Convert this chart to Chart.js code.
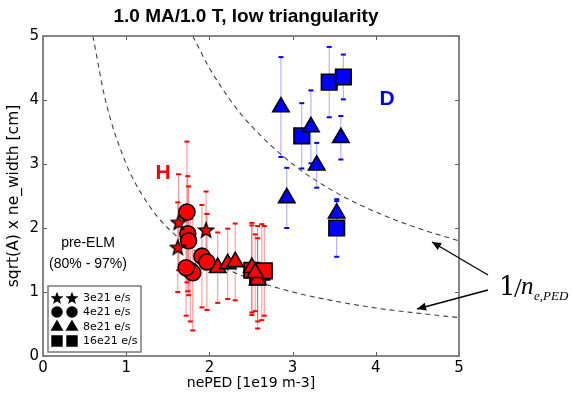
<!DOCTYPE html>
<html><head><meta charset="utf-8">
<script src="https://cdn.jsdelivr.net/npm/chart.js@4"></script>
<style>html,body{margin:0;padding:0;background:#fff}#wrap{width:573px;height:401px;position:relative}</style>
</head><body><div id="wrap"><canvas id="c" width="573" height="401"></canvas></div>
<script>
// ---- data ----
const xTicks = [0, 1, 2, 3, 4, 5];
const yTicks = [0, 1, 2, 3, 4, 5];
const titleText = '1.0 MA/1.0 T, low triangularity';
const xLabel = 'nePED [1e19 m-3]';
const yLabel = 'sqrt(A) x ne_width [cm]';
const legendLabels = ['3e21 e/s', '4e21 e/s', '8e21 e/s', '16e21 e/s'];

// H-mode (red) points
const hStarX = [1.63, 1.96, 1.62];
const hStarY = [2.09, 1.97, 1.70];
const hStarErr = [0.75, 0.60, 0.70];
const hCircX = [1.73, 1.74, 1.75, 1.91, 1.97, 1.77, 1.80, 1.72];
const hCircY = [2.25, 1.91, 1.80, 1.56, 1.47, 1.34, 1.30, 1.38];
const hCircErr = [1.10, 0.90, 0.85, 0.80, 0.75, 0.80, 0.90, 0.75];
const hTriX = [2.10, 2.22, 2.31, 2.51, 2.58, 2.55];
const hTriY = [1.38, 1.44, 1.47, 1.38, 1.19, 1.30];
const hTriErr = [0.55, 0.55, 0.60, 0.70, 0.65, 0.60];
const hSqX = [2.51, 2.63, 2.58, 2.66];
const hSqY = [1.34, 1.31, 1.23, 1.33];
const hSqErr = [0.70, 0.75, 0.80, 0.70];

// D (blue) points
const dTriX = [2.86, 3.22, 3.29, 3.58, 2.93, 3.53];
const dTriY = [3.89, 3.58, 2.98, 3.41, 2.47, 2.23];
const dTriErr = [0.78, 0.57, 0.35, 0.34, 0.47, 0.19];
const dSqX = [3.11, 3.44, 3.61, 3.53];
const dSqY = [3.44, 4.28, 4.36, 2.00];
const dSqErr = [0.51, 0.55, 0.35, 0.45];

// dashed 1/n reference curves
const upperCurveX = [1.80, 2.00, 2.25, 2.50, 3.00, 3.50, 4.00, 4.50, 5.00];
const upperCurveY = [5.00, 4.50, 4.00, 3.60, 3.00, 2.57, 2.25, 2.00, 1.80];
const lowerCurveX = [0.60, 0.75, 1.00, 1.25, 1.50, 2.00, 2.50, 3.00, 3.50, 4.00, 4.50, 5.00];
const lowerCurveY = [5.00, 4.00, 3.00, 2.40, 2.00, 1.50, 1.20, 1.00, 0.86, 0.75, 0.67, 0.60];

// ---- helpers ----
function pts(xs, ys, es) { return xs.map((x, i) => ({x: x, y: ys[i], err: es ? es[i] : 0})); }
function starCanvas(size, fill) {
  const c = document.createElement('canvas');
  c.width = size; c.height = size;
  const g = c.getContext('2d');
  const cx = size / 2, cy = size / 2 + size * 0.04, R = size / 2 - 1.2, r = R * 0.42;
  g.beginPath();
  for (let i = 0; i < 10; i++) {
    const a = -Math.PI / 2 + i * Math.PI / 5;
    const rr = i % 2 ? r : R;
    g.lineTo(cx + rr * Math.cos(a), cy + rr * Math.sin(a));
  }
  g.closePath();
  g.fillStyle = fill; g.fill();
  g.lineWidth = 1.4; g.strokeStyle = '#000'; g.stroke();
  return c;
}
const redStar = starCanvas(18, '#ff0000');
const blackStar = starCanvas(12, '#000000');

const RED = '#ff0000', BLUE = '#0000ff';

function scat(label, data, style, radius, color, errColor, capColor) {
  return {
    type: 'scatter', label: label, data: data, pointStyle: style, pointRadius: radius,
    pointBackgroundColor: color, pointBorderColor: '#000', pointBorderWidth: 1.6,
    errColor: errColor, capColor: capColor, showLine: false
  };
}

const errPlugin = {
  id: 'errbars',
  beforeDatasetsDraw(chart) {
    const ctx = chart.ctx, xs = chart.scales.x, ys = chart.scales.y, a = chart.chartArea;
    ctx.save();
    ctx.beginPath(); ctx.rect(a.left, a.top, a.right - a.left, a.bottom - a.top); ctx.clip();
    chart.data.datasets.forEach(ds => {
      if (!ds.errColor) return;
      ds.data.forEach(p => {
        const px = xs.getPixelForValue(p.x);
        const y1 = ys.getPixelForValue(p.y - p.err), y2 = ys.getPixelForValue(p.y + p.err);
        ctx.strokeStyle = ds.errColor; ctx.lineWidth = 1;
        ctx.beginPath(); ctx.moveTo(px, y1); ctx.lineTo(px, y2); ctx.stroke();
        ctx.fillStyle = ds.capColor;
        ctx.fillRect(px - 2.5, y1 - 1, 5, 2);
        ctx.fillRect(px - 2.5, y2 - 1, 5, 2);
      });
    });
    ctx.restore();
  }
};

function arrow(ctx, x1, y1, x2, y2) {
  ctx.beginPath(); ctx.moveTo(x1, y1); ctx.lineTo(x2, y2); ctx.stroke();
  const ang = Math.atan2(y2 - y1, x2 - x1), L = 9, W = 4;
  ctx.beginPath();
  ctx.moveTo(x2, y2);
  ctx.lineTo(x2 - L * Math.cos(ang) + W * Math.sin(ang), y2 - L * Math.sin(ang) - W * Math.cos(ang));
  ctx.lineTo(x2 - L * Math.cos(ang) - W * Math.sin(ang), y2 - L * Math.sin(ang) + W * Math.cos(ang));
  ctx.closePath(); ctx.fill();
}

const decoPlugin = {
  id: 'deco',
  afterDraw(chart) {
    const ctx = chart.ctx, a = chart.chartArea, xs = chart.scales.x, ys = chart.scales.y;
    ctx.save();
    // inward ticks on all four sides
    ctx.strokeStyle = '#555'; ctx.lineWidth = 1;
    xTicks.forEach(v => {
      const px = Math.round(xs.getPixelForValue(v)) + 0.5;
      ctx.beginPath(); ctx.moveTo(px, a.bottom); ctx.lineTo(px, a.bottom - 4);
      ctx.moveTo(px, a.top); ctx.lineTo(px, a.top + 4); ctx.stroke();
    });
    yTicks.forEach(v => {
      const py = Math.round(ys.getPixelForValue(v)) + 0.5;
      ctx.beginPath(); ctx.moveTo(a.left, py); ctx.lineTo(a.left + 4, py);
      ctx.moveTo(a.right, py); ctx.lineTo(a.right - 4, py); ctx.stroke();
    });
    // frame
    ctx.strokeStyle = '#7a7a7a'; ctx.lineWidth = 1.8;
    ctx.strokeRect(a.left, a.top, a.right - a.left, a.bottom - a.top);

    // title
    ctx.fillStyle = '#000';
    ctx.font = 'bold 19px "Liberation Sans", Arial, sans-serif';
    ctx.textAlign = 'center'; ctx.textBaseline = 'middle';
    ctx.fillText(titleText, 246, 17);

    // H / D labels
    ctx.font = 'bold 21px "Liberation Sans", Arial, sans-serif';
    ctx.fillStyle = RED; ctx.fillText('H', 163, 173);
    ctx.fillStyle = BLUE; ctx.fillText('D', 387, 99);

    // pre-ELM text
    ctx.fillStyle = '#000';
    ctx.font = '14px "Liberation Sans", Arial, sans-serif';
    ctx.fillText('pre-ELM', 88, 243);
    ctx.fillText('(80% - 97%)', 88, 264);

    // legend box
    const lx = 48, ly = 286, lw = 93, lh = 66;
    ctx.fillStyle = '#fff'; ctx.fillRect(lx, ly, lw, lh);
    ctx.strokeStyle = '#7a7a7a'; ctx.lineWidth = 1.5; ctx.strokeRect(lx, ly, lw, lh);
    const rows = [298, 312, 327, 341];
    const styles = ['star', 'circle', 'triangle', 'rect'];
    const radii = [0, 5, 6, 7];
    ctx.font = '11px "DejaVu Sans", sans-serif';
    ctx.textAlign = 'left';
    rows.forEach((ry, i) => {
      [57, 72].forEach(mx => {
        if (styles[i] === 'star') {
          ctx.drawImage(blackStar, mx - blackStar.width / 2, ry - blackStar.height / 2);
        } else {
          ctx.fillStyle = '#000'; ctx.strokeStyle = '#000';
          Chart.helpers.drawPoint(ctx, {pointStyle: styles[i], radius: radii[i], rotation: 0, borderWidth: 0.5}, mx, ry);
          ctx.fill();
        }
      });
      ctx.fillStyle = '#000';
      ctx.fillText(legendLabels[i], 83, ry + 0.5);
    });

    // 1/n annotation with arrows
    ctx.strokeStyle = '#000'; ctx.fillStyle = '#000'; ctx.lineWidth = 1.3;
    arrow(ctx, 488, 275, 432, 242);
    arrow(ctx, 488, 290, 417, 309);
    ctx.textBaseline = 'alphabetic'; ctx.textAlign = 'left';
    ctx.font = '26px "DejaVu Serif", "Liberation Serif", serif';
    ctx.fillText('1', 499, 295);
    ctx.font = '28px "Liberation Serif", serif';
    ctx.fillText('/', 514, 297);
    ctx.font = 'italic 25px "Liberation Serif", serif';
    ctx.fillText('n', 521, 294);
    ctx.font = 'italic 13px "Liberation Serif", serif';
    ctx.fillText('e,PED', 534, 300);
    ctx.restore();
  }
};

const tickFont = {family: '"DejaVu Sans", sans-serif', size: 15};

new Chart(document.getElementById('c'), {
  type: 'scatter',
  data: {
    datasets: [
      scat('H 3e21', pts(hStarX, hStarY, hStarErr), redStar, 9, RED, 'rgba(255,0,0,0.45)', RED),
      scat('H 4e21', pts(hCircX, hCircY, hCircErr), 'circle', 8, RED, 'rgba(255,0,0,0.45)', RED),
      scat('H 8e21', pts(hTriX, hTriY, hTriErr), 'triangle', 9.5, RED, 'rgba(255,0,0,0.45)', RED),
      scat('H 16e21', pts(hSqX, hSqY, hSqErr), 'rect', 11, RED, 'rgba(255,0,0,0.45)', RED),
      scat('D 8e21', pts(dTriX, dTriY, dTriErr), 'triangle', 9.5, BLUE, 'rgba(0,0,255,0.35)', BLUE),
      scat('D 16e21', pts(dSqX, dSqY, dSqErr), 'rect', 11, BLUE, 'rgba(0,0,255,0.35)', BLUE),
      {type: 'line', label: 'upper', data: pts(upperCurveX, upperCurveY), borderColor: '#444',
       borderWidth: 1.1, borderDash: [5, 4], pointRadius: 0, tension: 0.4, cubicInterpolationMode: 'monotone', fill: false},
      {type: 'line', label: 'lower', data: pts(lowerCurveX, lowerCurveY), borderColor: '#444',
       borderWidth: 1.1, borderDash: [5, 4], pointRadius: 0, tension: 0.4, cubicInterpolationMode: 'monotone', fill: false}
    ]
  },
  options: {
    responsive: false, animation: false, devicePixelRatio: 1,
    layout: {padding: {top: 36, right: 114, left: 0, bottom: 0}},
    plugins: {legend: {display: false}, tooltip: {enabled: false}, title: {display: false}},
    scales: {
      x: {
        type: 'linear', min: 0, max: 5,
        afterBuildTicks: s => { s.ticks = xTicks.map(v => ({value: v})); },
        afterFit: s => { s.height = 45; },
        ticks: {font: tickFont, color: '#000', padding: 3},
        grid: {display: false, drawTicks: false, tickLength: 0}, border: {display: false},
        title: {display: true, text: xLabel, color: '#000', font: {family: '"DejaVu Sans", sans-serif', size: 14}, padding: {top: 0, bottom: 9}}
      },
      y: {
        type: 'linear', min: 0, max: 5,
        afterBuildTicks: s => { s.ticks = yTicks.map(v => ({value: v})); },
        afterFit: s => { s.width = 43; },
        ticks: {font: tickFont, color: '#000', padding: 4},
        grid: {display: false, drawTicks: false, tickLength: 0}, border: {display: false},
        title: {display: true, text: yLabel, color: '#000', font: {family: '"DejaVu Sans", sans-serif', size: 15.5}, padding: {top: 5, bottom: 0}}
      }
    }
  },
  plugins: [errPlugin, decoPlugin]
});
</script></body></html>
